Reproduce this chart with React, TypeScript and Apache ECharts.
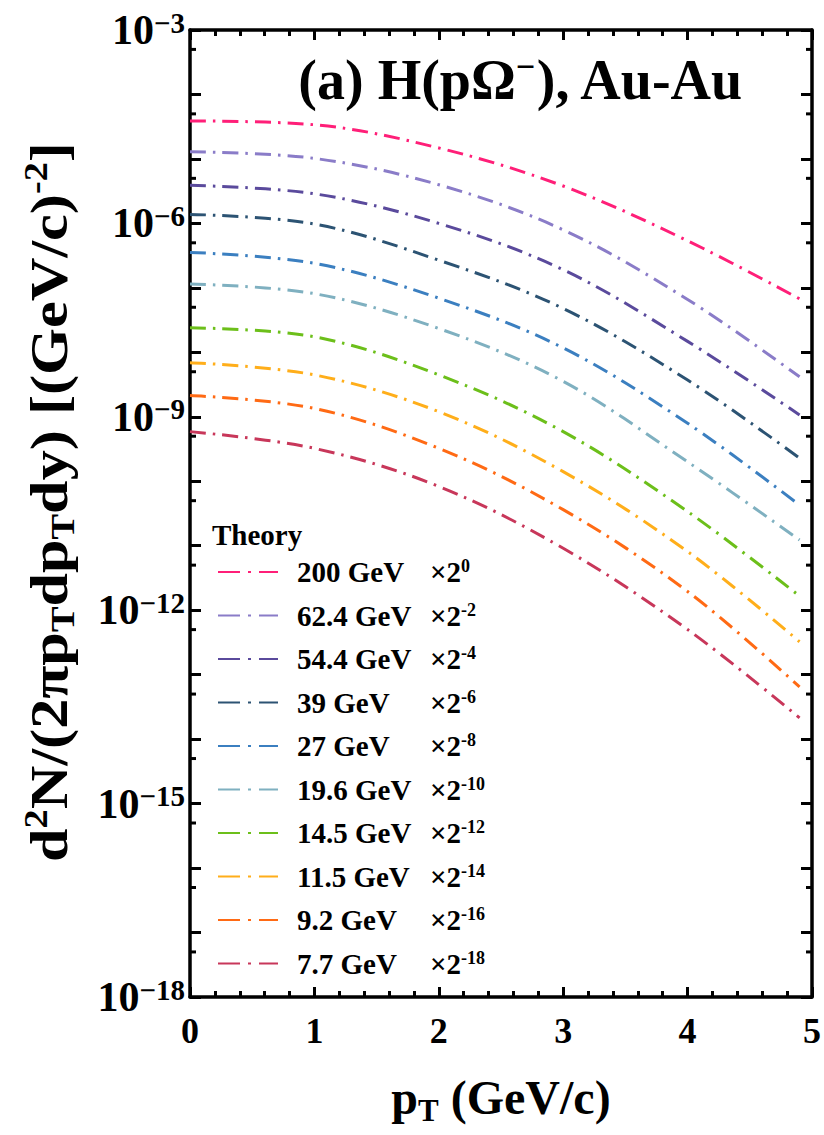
import React, { useEffect, useRef } from 'react';
import * as echarts from 'echarts';

// ---------- data ----------
const pT = [0, 1, 2, 3, 4, 4.9];

const seriesNames = ['200 GeV', '62.4 GeV', '54.4 GeV', '39 GeV', '27 GeV', '19.6 GeV', '14.5 GeV', '11.5 GeV', '9.2 GeV', '7.7 GeV'];
const scaleExponents = ['0', '-2', '-4', '-6', '-8', '-10', '-12', '-14', '-16', '-18'];
const colors = ['#ff1f78', '#8a7cc8', '#5a4a9c', '#2c5373', '#3b7fc0', '#7fb0c0', '#6cbf1a', '#ffae1a', '#ff6a14', '#c8375a'];

// d2N/(2pi pT dpT dy) values (already multiplied by the legend scale factor)
const y200 = [3.89e-5, 3.39e-5, 1.48e-5, 3.8e-6, 5.37e-7, 6.76e-8];
const y62 = [1.29e-5, 1.02e-5, 3.98e-6, 7.94e-7, 6.61e-8, 4.17e-9];
const y54 = [3.89e-6, 2.88e-6, 1.0e-6, 1.91e-7, 1.48e-8, 1.07e-9];
const y39 = [1.38e-6, 9.77e-7, 2.69e-7, 4.79e-8, 3.72e-9, 2.29e-10];
const y27 = [3.55e-7, 2.4e-7, 6.92e-8, 1.17e-8, 7.94e-10, 4.27e-11];
const y19 = [1.15e-7, 8.13e-8, 2.34e-8, 3.55e-9, 2.0e-10, 1.23e-11];
const y14 = [2.4e-8, 1.74e-8, 4.47e-9, 5.89e-10, 3.39e-11, 1.66e-12];
const y11 = [6.92e-9, 4.47e-9, 1.2e-9, 1.41e-10, 8.13e-12, 3.24e-13];
const y9 = [2.14e-9, 1.35e-9, 3.24e-10, 3.63e-11, 1.95e-12, 6.46e-14];
const y7 = [5.89e-10, 3.24e-10, 8.32e-11, 9.12e-12, 5.01e-13, 2.14e-14];
const allY = [y200, y62, y54, y39, y27, y19, y14, y11, y9, y7];

const xTickValues = [0, 1, 2, 3, 4, 5];
const yMinExp = -18;
const yMaxExp = -3;
const yLabelExponents = [-3, -6, -9, -12, -15, -18];
const minorYTickValues = [5e-4, 5e-5, 5e-6, 5e-7, 5e-8, 5e-9, 5e-10, 5e-11, 5e-12, 5e-13, 5e-14, 5e-15, 5e-16, 5e-17, 5e-18];

const FONT = '"Liberation Serif", "Times New Roman", serif';

export default function App() {
  const ref = useRef<HTMLDivElement>(null);
  useEffect(() => {
    document.body.style.margin = '0';
    if (!ref.current) return;
    const chart = echarts.init(ref.current, undefined, { renderer: 'svg' });

    const dash = [16, 7, 2.5, 7];
    const lineSeries = seriesNames.map((name, i) => ({
      name,
      type: 'line',
      xAxisIndex: 0,
      yAxisIndex: 0,
      data: pT.map((x, j) => [x, Math.log10(allY[i][j])]),
      smooth: 0.35,
      symbol: 'none',
      showSymbol: false,
      lineStyle: { color: colors[i], width: 3, type: dash },
      itemStyle: { color: colors[i] },
      z: 3,
    }));

    const tickSeries = {
      type: 'custom',
      xAxisIndex: 0,
      yAxisIndex: 0,
      silent: true,
      z: 10,
      clip: false,
      data: minorYTickValues.map((v) => [0, Math.log10(v)]),
      renderItem: (params: any, api: any) => {
        const cs = params.coordSys;
        const y = api.coord([0, api.value(1)])[1];
        const st = { stroke: '#000', lineWidth: 3 };
        return {
          type: 'group',
          children: [
            { type: 'line', shape: { x1: cs.x, y1: y, x2: cs.x + 6, y2: y }, style: st },
            { type: 'line', shape: { x1: cs.x + cs.width - 6, y1: y, x2: cs.x + cs.width, y2: y }, style: st },
          ],
        };
      },
    };

    const xAxisBase = {
      type: 'value',
      min: 0,
      max: 5,
      interval: 1,
      axisLine: { show: true, onZero: false, lineStyle: { color: '#000', width: 3.5 } },
      axisTick: { show: true, inside: true, length: 10, lineStyle: { color: '#000', width: 3 } },
      minorTick: { show: true, splitNumber: 5, length: 6, lineStyle: { color: '#000', width: 3 } },
      splitLine: { show: false },
      minorSplitLine: { show: false },
    };
    const yAxisBase = {
      type: 'value',
      min: yMinExp,
      max: yMaxExp,
      interval: 1,
      axisLine: { show: true, onZero: false, lineStyle: { color: '#000', width: 3.5 } },
      axisTick: { show: true, inside: true, length: 11, lineStyle: { color: '#000', width: 3 } },
      splitLine: { show: false },
    };

    const option: any = {
      animation: false,
      backgroundColor: '#fff',
      grid: { left: 190, top: 30, width: 622, height: 967, containLabel: false },
      xAxis: [
        {
          ...xAxisBase,
          position: 'bottom',
          axisLabel: {
            show: true,
            margin: 16,
            color: '#000',
            fontFamily: FONT,
            fontWeight: 'bold',
            fontSize: 36,
            formatter: (v: number) => (xTickValues.indexOf(Math.round(v)) >= 0 ? String(Math.round(v)) : ''),
          },
        },
        { ...xAxisBase, position: 'top', axisLabel: { show: false } },
      ],
      yAxis: [
        {
          ...yAxisBase,
          position: 'left',
          axisLabel: {
            show: true,
            margin: 5,
            color: '#000',
            formatter: (v: number) => {
              const e = Math.round(v);
              return yLabelExponents.indexOf(e) >= 0 ? `{n|10}{s|\u2212${-e}}` : '';
            },
            rich: {
              n: { fontFamily: FONT, fontWeight: 'bold', fontSize: 42, lineHeight: 44, color: '#000' },
              s: { fontFamily: FONT, fontWeight: 'bold', fontSize: 29, lineHeight: 29, verticalAlign: 'top', color: '#000' },
            },
          },
        },
        { ...yAxisBase, position: 'right', axisLabel: { show: false } },
      ],
      legend: {
        data: seriesNames,
        orient: 'vertical',
        left: 212,
        top: 552,
        itemWidth: 60,
        itemHeight: 14,
        itemGap: 14.0,
        selectedMode: false,
        lineStyle: { type: [22, 8, 3, 8] },
        itemStyle: { opacity: 0, borderWidth: 0 },
        formatter: (name: string) => {
          const i = seriesNames.indexOf(name);
          return `{a|${name}}{b|\u00d72}{s|${scaleExponents[i]}}`;
        },
        textStyle: {
          color: '#000',
          rich: {
            a: { fontFamily: FONT, fontWeight: 'bold', fontSize: 29, lineHeight: 30, width: 133, padding: [0, 0, 0, 14], color: '#000' },
            b: { fontFamily: FONT, fontWeight: 'bold', fontSize: 29, lineHeight: 30, color: '#000' },
            s: { fontFamily: FONT, fontWeight: 'bold', fontSize: 18, lineHeight: 18, verticalAlign: 'top', color: '#000' },
          },
        },
      },
      graphic: [
        {
          type: 'text',
          x: 212,
          y: 535,
          style: { text: 'Theory', fill: '#000', font: `bold 29px ${FONT}`, verticalAlign: 'middle' },
        },
        {
          type: 'text',
          x: 521,
          y: 80,
          style: {
            text: '(a) H(p\u03a9{s|\u2212}), Au-Au',
            fill: '#000',
            font: `bold 56px ${FONT}`,
            align: 'center',
            verticalAlign: 'middle',
            rich: {
              s: { font: `bold 34px ${FONT}`, verticalAlign: 'top', lineHeight: 34, fill: '#000' },
            },
            lineHeight: 62,
          },
        },
        {
          type: 'text',
          x: 501,
          y: 1097,
          style: {
            text: 'p{b|T} (GeV/c)',
            fill: '#000',
            font: `bold 48px ${FONT}`,
            align: 'center',
            verticalAlign: 'middle',
            lineHeight: 58,
            rich: {
              b: { font: `bold 31px ${FONT}`, verticalAlign: 'bottom', lineHeight: 31, fill: '#000' },
            },
          },
        },
        {
          type: 'text',
          x: 49,
          y: 502,
          rotation: Math.PI / 2,
          scaleX: 1.16,
          style: {
            text: 'd{p|2}N/(2\u03c0p{b|T}dp{b|T}dy) [(GeV/c){p|-2}]',
            fill: '#000',
            font: `bold 52px ${FONT}`,
            align: 'center',
            verticalAlign: 'middle',
            lineHeight: 60,
            rich: {
              p: { font: `bold 33px ${FONT}`, verticalAlign: 'top', lineHeight: 33, fill: '#000' },
              b: { font: `bold 33px ${FONT}`, verticalAlign: 'bottom', lineHeight: 33, fill: '#000' },
            },
          },
        },
      ],
      series: [...lineSeries, tickSeries],
    };
    chart.setOption(option);
    return () => chart.dispose();
  }, []);
  return <div ref={ref} style={{ width: 824, height: 1135 }} />;
}
